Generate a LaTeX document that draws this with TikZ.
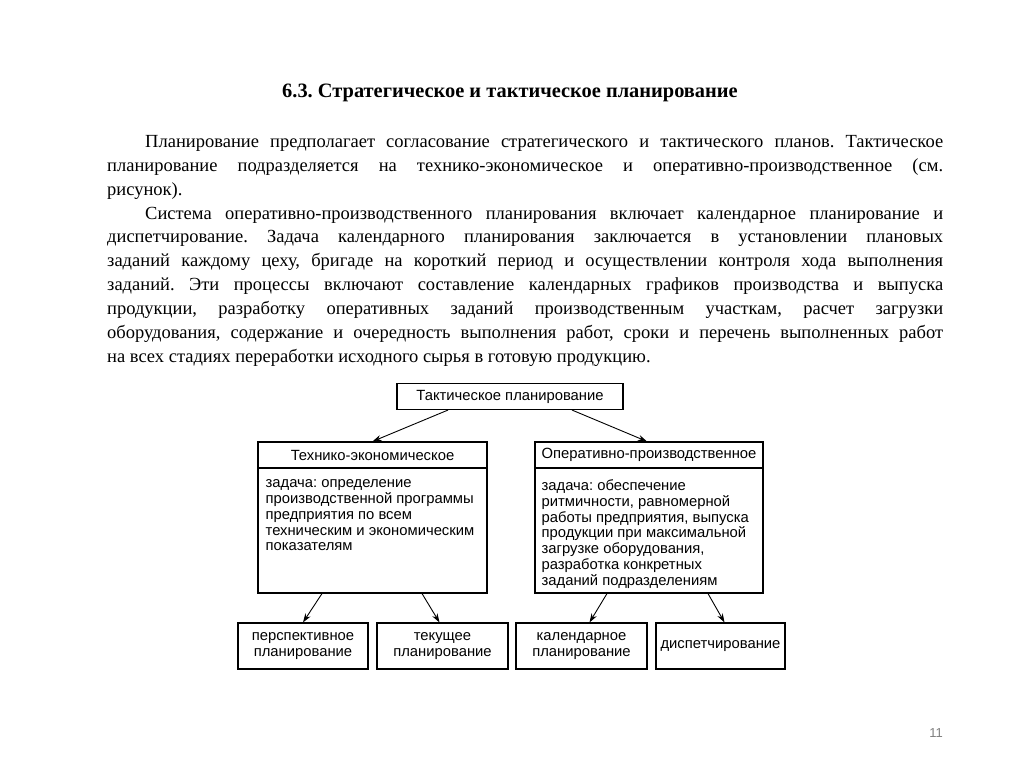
\documentclass[tikz,border=0pt]{standalone}
\usepackage{fontspec}
\setmainfont{Liberation Serif}
\newfontfamily\diagfont{Liberation Sans}
\usetikzlibrary{arrows.meta}
\tikzset{
  box/.style={draw, line width=1.1pt, inner sep=0pt},
  lbl/.style={font=\diagfont\fontsize{14.8}{16}\selectfont, align=center},
  bodytext/.style={font=\diagfont\fontsize{14.8}{15.8}\selectfont, align=left, anchor=north west, inner sep=0pt},
  arr/.style={line width=0.9pt, -{Stealth[length=9pt,width=6pt]}}
}
\begin{document}
\begin{tikzpicture}[x=1pt,y=-1pt]
\useasboundingbox[fill=white] (0,0) rectangle (1024,767);
\frenchspacing
\node[font=\bfseries\fontsize{20.4}{24}\selectfont] (title) at (510,93) {6.3. Стратегическое и тактическое планирование};
\node[anchor=north west, inner sep=0pt, text width=836pt, align=justify,
      font=\fontsize{18.5}{23.9}\selectfont] (text) at (107,135)
{\hyphenpenalty=10000\exhyphenpenalty=10000
\hspace*{38pt}Планирование предполагает согласование стратегического и тактического планов. Тактическое\linebreak
планирование подразделяется на технико-экономическое и оперативно-производственное (см.\linebreak
рисунок).\par
\hspace*{38pt}Система оперативно-производственного планирования включает календарное планирование и\linebreak
диспетчирование. Задача календарного планирования заключается в установлении плановых\linebreak
заданий каждому цеху, бригаде на короткий период и осуществлении контроля хода выполнения\linebreak
заданий. Эти процессы включают составление календарных графиков производства и выпуска\linebreak
продукции, разработку оперативных заданий производственным участкам, расчет загрузки\linebreak
оборудования, содержание и очередность выполнения работ, сроки и перечень выполненных работ\linebreak
на всех стадиях переработки исходного сырья в готовую продукцию.};

% diagram
\node[box, lbl, minimum width=226pt, minimum height=26pt] (top) at (510,396.5) {Тактическое планирование};
\node[box, lbl, minimum width=229pt, minimum height=26pt] (lhead) at (372.5,455) {Технико-экономическое};
\node[box, minimum width=229pt, minimum height=125pt] (lbody) at (372.5,530.5) {};
\node[box, lbl, minimum width=228pt, minimum height=26pt] (rhead) at (649,455) {Оперативно-производственное};
\node[box, minimum width=228pt, minimum height=125pt] (rbody) at (649,530.5) {};
\node[bodytext] (ltext) at ([xshift=8pt,yshift=-12pt]lbody.north west)
  {задача: определение\\производственной программы\\предприятия по всем\\техническим и экономическим\\показателям};
\node[bodytext] (rtext) at ([xshift=7pt,yshift=-12pt]rbody.north west)
  {задача: обеспечение\\ритмичности, равномерной\\работы предприятия, выпуска\\продукции при максимальной\\загрузке оборудования,\\разработка конкретных\\заданий подразделениям};

\node[box, lbl, minimum width=130pt, minimum height=46pt] (b1) at (303,646) {перспективное\\планирование};
\node[box, lbl, minimum width=131pt, minimum height=46pt] (b2) at (442.5,646) {текущее\\планирование};
\node[box, lbl, minimum width=131pt, minimum height=46pt] (b3) at (581.5,646) {календарное\\планирование};
\node[box, lbl, minimum width=129pt, minimum height=46pt] (b4) at (720.5,646) {диспетчирование};

\draw[arr] ([xshift=-62pt]top.south) -- (lhead.north);
\draw[arr] ([xshift=62pt]top.south) -- ([xshift=-2pt]rhead.north);
\draw[arr] ([xshift=-50.5pt]lbody.south) -- (b1.north);
\draw[arr] ([xshift=49.5pt]lbody.south) -- ([xshift=-3pt]b2.north);
\draw[arr] ([xshift=-42pt]rbody.south) -- ([xshift=8pt]b3.north);
\draw[arr] ([xshift=59pt]rbody.south) -- ([xshift=4pt]b4.north);

\node[text=gray, font=\diagfont\fontsize{13}{15}\selectfont] (pg) at (936,733) {11};
\end{tikzpicture}
\end{document}
